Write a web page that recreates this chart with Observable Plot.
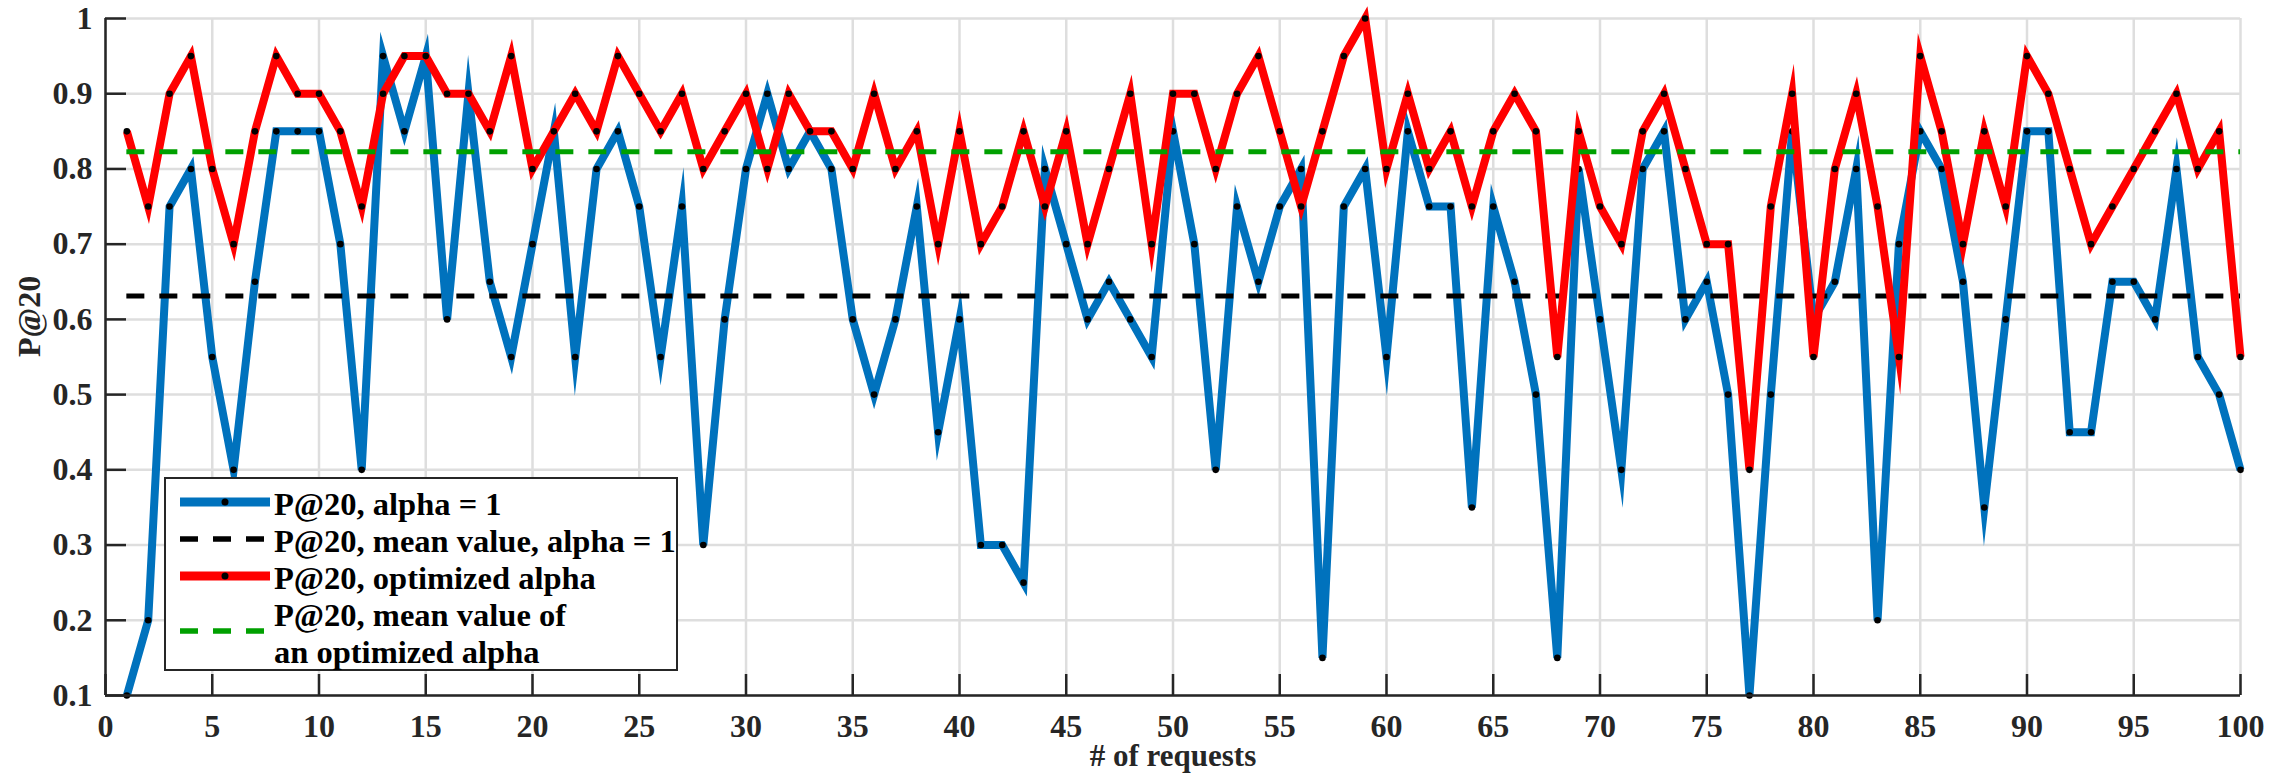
<!DOCTYPE html>
<html>
<head>
<meta charset="utf-8">
<script src="https://cdn.jsdelivr.net/npm/d3@7"></script>
<script src="https://cdn.jsdelivr.net/npm/@observablehq/plot@0.6"></script>
<style>
  html, body { margin: 0; padding: 0; background: #ffffff; }
  #wrap { position: relative; width: 2288px; height: 781px; }
  #wrap svg text { font-family: 'Liberation Serif', 'Times New Roman', serif; font-weight: bold; }
  #legend { position: absolute; left: 164px; top: 477px; width: 514px; height: 194px;
            box-sizing: border-box; border: 2px solid #262626; background: #ffffff; }
  #legend svg { position: absolute; left: -2px; top: -2px; overflow: visible; }
</style>
</head>
<body>
<div id="wrap"><div id="legend"></div></div>
<script>
// ---- data ----
const requests = [1,2,3,4,5,6,7,8,9,10,11,12,13,14,15,16,17,18,19,20,
  21,22,23,24,25,26,27,28,29,30,31,32,33,34,35,36,37,38,39,40,
  41,42,43,44,45,46,47,48,49,50,51,52,53,54,55,56,57,58,59,60,
  61,62,63,64,65,66,67,68,69,70,71,72,73,74,75,76,77,78,79,80,
  81,82,83,84,85,86,87,88,89,90,91,92,93,94,95,96,97,98,99,100];

const p20Alpha1 = [
  0.10,0.20,0.75,0.80,0.55,0.40,0.65,0.85,0.85,0.85,
  0.70,0.40,0.95,0.85,0.95,0.60,0.90,0.65,0.55,0.70,
  0.85,0.55,0.80,0.85,0.75,0.55,0.75,0.30,0.60,0.80,
  0.90,0.80,0.85,0.80,0.60,0.50,0.60,0.75,0.45,0.60,
  0.30,0.30,0.25,0.80,0.70,0.60,0.65,0.60,0.55,0.85,
  0.70,0.40,0.75,0.65,0.75,0.80,0.15,0.75,0.80,0.55,
  0.85,0.75,0.75,0.35,0.75,0.65,0.50,0.15,0.80,0.60,
  0.40,0.80,0.85,0.60,0.65,0.50,0.10,0.50,0.85,0.60,
  0.65,0.80,0.20,0.70,0.85,0.80,0.65,0.35,0.60,0.85,
  0.85,0.45,0.45,0.65,0.65,0.60,0.80,0.55,0.50,0.40];

const p20Optimized = [
  0.85,0.75,0.90,0.95,0.80,0.70,0.85,0.95,0.90,0.90,
  0.85,0.75,0.90,0.95,0.95,0.90,0.90,0.85,0.95,0.80,
  0.85,0.90,0.85,0.95,0.90,0.85,0.90,0.80,0.85,0.90,
  0.80,0.90,0.85,0.85,0.80,0.90,0.80,0.85,0.70,0.85,
  0.70,0.75,0.85,0.75,0.85,0.70,0.80,0.90,0.70,0.90,
  0.90,0.80,0.90,0.95,0.85,0.75,0.85,0.95,1.00,0.80,
  0.90,0.80,0.85,0.75,0.85,0.90,0.85,0.55,0.85,0.75,
  0.70,0.85,0.90,0.80,0.70,0.70,0.40,0.75,0.90,0.55,
  0.80,0.90,0.75,0.55,0.95,0.85,0.70,0.85,0.75,0.95,
  0.90,0.80,0.70,0.75,0.80,0.85,0.90,0.80,0.85,0.55];

const meanAlpha1 = 0.631;
const meanOptimized = 0.823;

const xTicks = [0,5,10,15,20,25,30,35,40,45,50,55,60,65,70,75,80,85,90,95,100];
const yTicks = [0.1,0.2,0.3,0.4,0.5,0.6,0.7,0.8,0.9,1];

const legendLabels = [
  ["P@20, alpha = 1"],
  ["P@20, mean value, alpha = 1"],
  ["P@20, optimized alpha"],
  ["P@20, mean value of", "an optimized alpha"]
];

const xTitle = "# of requests";
const yTitle = "P@20";

// ---- styles ----
const BLUE = "#0072BD", RED = "#FF0000", GREEN = "#00A000", AXIS = "#262626", GRID = "#dedede";
const FONT = "'Liberation Serif', 'Times New Roman', serif";
const DASH = "18,15";

const rows = requests.map((r, i) => ({request: r, alpha1: p20Alpha1[i], optimized: p20Optimized[i]}));
const xDomain = [xTicks[0], xTicks[xTicks.length - 1]];
const yDomain = [yTicks[0], yTicks[yTicks.length - 1]];
const firstReq = requests[0], lastReq = requests[requests.length - 1];

const chart = Plot.plot({
  width: 2288,
  height: 781,
  marginLeft: 105,
  marginRight: 48,
  marginTop: 18,
  marginBottom: 86,
  x: {domain: xDomain, label: null},
  y: {domain: yDomain, label: null},
  style: {fontFamily: FONT, fontSize: "32px", fontWeight: "bold", background: "#ffffff", color: AXIS, overflow: "visible"},
  marks: [
    Plot.gridX(xTicks, {stroke: GRID, strokeOpacity: 1, strokeWidth: 2.5}),
    Plot.gridY(yTicks, {stroke: GRID, strokeOpacity: 1, strokeWidth: 2.5}),
    Plot.line(rows, {x: "request", y: "alpha1", stroke: BLUE, strokeWidth: 8,
      strokeLinejoin: "miter", strokeMiterlimit: 10, strokeLinecap: "butt"}),
    Plot.dot(rows, {x: "request", y: "alpha1", r: 3.3, fill: "black", stroke: null}),
    Plot.ruleY([meanAlpha1], {y: d => d, x1: firstReq, x2: lastReq, stroke: "black", strokeWidth: 5, strokeDasharray: DASH}),
    Plot.line(rows, {x: "request", y: "optimized", stroke: RED, strokeWidth: 8,
      strokeLinejoin: "miter", strokeMiterlimit: 10, strokeLinecap: "butt"}),
    Plot.dot(rows, {x: "request", y: "optimized", r: 3.3, fill: "black", stroke: null}),
    Plot.ruleY([meanOptimized], {y: d => d, x1: firstReq, x2: lastReq, stroke: GREEN, strokeWidth: 5, strokeDasharray: DASH}),
    // axis lines
    Plot.ruleX([xDomain[0]], {stroke: AXIS, strokeWidth: 2.5}),
    Plot.ruleY([yDomain[0]], {stroke: AXIS, strokeWidth: 2.5}),
    // inward ticks
    Plot.axisX(xTicks, {tickSize: 21, dy: -21, fill: "none", stroke: AXIS, strokeWidth: 2.5, label: null}),
    Plot.axisY(yTicks, {tickSize: 21, dx: 21, fill: "none", stroke: AXIS, strokeWidth: 2.5, label: null}),
    // tick labels
    Plot.axisX(xTicks, {tickSize: 0, tickPadding: 19, tickFormat: d => String(d), fill: AXIS, label: null, fontSize: 32}),
    Plot.axisY(yTicks, {tickSize: 0, tickPadding: 13, tickFormat: d => String(d), fill: AXIS, label: null, fontSize: 32}),
    // axis titles
    Plot.text([xTitle], {text: d => d, frameAnchor: "bottom", dy: 70, fill: AXIS, fontSize: 31}),
    Plot.text([yTitle], {text: d => d, frameAnchor: "left", dx: -76, rotate: -90, fill: AXIS, fontSize: 32})
  ]
});
document.getElementById("wrap").prepend(chart);

// ---- legend (overlay inside the axes, like the original) ----
const lg = d3.select("#legend").append("svg").attr("width", 514).attr("height", 194);
const sampleX1 = 16, sampleX2 = 106, textX = 110;
const specs = [
  {y: 25, stroke: BLUE, width: 9, dash: null, marker: true},
  {y: 62, stroke: "black", width: 5.5, dash: DASH, marker: false},
  {y: 99, stroke: RED, width: 9, dash: null, marker: true},
  {y: 154, stroke: GREEN, width: 5.5, dash: DASH, marker: false}
];
const textRows = [[27], [64], [101], [138, 175]];
specs.forEach((s, i) => {
  const ln = lg.append("line").attr("x1", sampleX1).attr("x2", sampleX2).attr("y1", s.y).attr("y2", s.y)
    .attr("stroke", s.stroke).attr("stroke-width", s.width);
  if (s.dash) ln.attr("stroke-dasharray", s.dash);
  if (s.marker) lg.append("circle").attr("cx", (sampleX1 + sampleX2) / 2).attr("cy", s.y).attr("r", 3.5).attr("fill", "black");
  legendLabels[i].forEach((t, j) => {
    lg.append("text").attr("x", textX).attr("y", textRows[i][j]).attr("dy", "0.35em")
      .attr("font-family", FONT).attr("font-weight", "bold").attr("font-size", 32.5).attr("fill", "black").text(t);
  });
});
</script>
</body>
</html>
